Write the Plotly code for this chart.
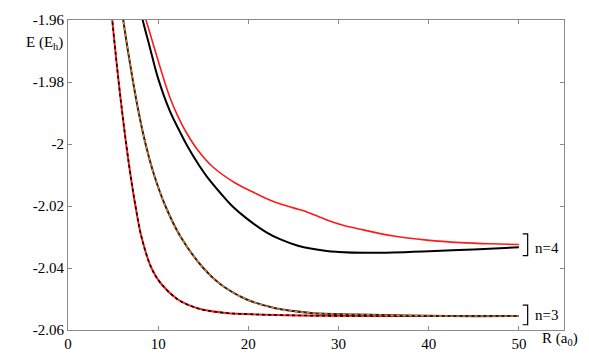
import plotly.graph_objects as go

# Curve data: E (Eh) against R (a0)
R_n3a = [4.6, 4.91, 5.25, 5.62, 6.02, 6.45, 6.93, 7.48, 8.15, 9.25, 10.3, 12.1, 13.4, 15.0, 17.5, 21.0, 28.0, 40.0, 50.0]
E_n3a = [-1.951, -1.96, -1.97, -1.98, -1.99, -2.00, -2.01, -2.02, -2.03, -2.04, -2.045, -2.05, -2.052,
         -2.0535, -2.0545, -2.055, -2.0554, -2.0555, -2.0555]

R_n3b = [5.75, 6.13, 6.65, 7.22, 7.85, 8.6, 9.55, 10.8, 12.5, 15.0, 16.8, 19.7, 23.0, 27.0, 32.0, 42.0, 50.0]
E_n3b = [-1.951, -1.96, -1.97, -1.98, -1.99, -2.00, -2.01, -2.02, -2.03, -2.04, -2.045, -2.05, -2.053,
         -2.0545, -2.055, -2.0555, -2.0555]

R_n4_black = [7.9, 8.28, 9.09, 10.0, 11.3, 12.4, 13.2, 14.6, 15.4, 16.9, 18.2, 19.8, 22.0, 23.5, 25.5,
              28.7, 30.0, 33.0, 36.0, 40.0, 45.0, 50.0]
E_n4_black = [-1.9551, -1.96, -1.969, -1.9789, -1.9894, -1.996, -2.0005, -2.0072, -2.0105, -2.0158,
              -2.02, -2.024, -2.0285, -2.0307, -2.0328, -2.0345, -2.0348, -2.0351, -2.035, -2.0346,
              -2.034, -2.0333]

R_n4_red = [8.25, 8.65, 9.5, 10.6, 11.3, 12.1, 13.2, 14.4, 16.1, 18.5, 20.5, 22.7, 25.0, 26.5, 27.5,
            28.7, 30.5, 32.4, 36.1, 39.8, 43.5, 47.0, 50.0]
E_n4_red = [-1.956, -1.96, -1.9683, -1.9789, -1.985, -1.9905, -1.9967, -2.002, -2.0075, -2.0125, -2.0155,
            -2.0185, -2.0206, -2.0219, -2.0231, -2.0245, -2.0262, -2.0275, -2.0297, -2.031, -2.0318,
            -2.0322, -2.0324]

x_ticks = [0, 10, 20, 30, 40, 50]
y_ticks = [-1.96, -1.98, -2.0, -2.02, -2.04, -2.06]
y_tick_text = ["-1.96", "-1.98", "-2", "-2.02", "-2.04", "-2.06"]

FONT = "Liberation Serif, Times New Roman, DejaVu Serif, serif"
AXC = "#8a8a8a"

fig = go.Figure()
spl = dict(shape="spline", smoothing=1.0)
fig.add_trace(go.Scatter(x=R_n3a, y=E_n3a, mode="lines", line=dict(color="#ff1a1a", width=2, **spl)))
fig.add_trace(go.Scatter(x=R_n3a, y=E_n3a, mode="lines", line=dict(color="black", width=1.6, dash="dot", **spl)))
fig.add_trace(go.Scatter(x=R_n3b, y=E_n3b, mode="lines", line=dict(color="#222222", width=2, **spl)))
fig.add_trace(go.Scatter(x=R_n3b, y=E_n3b, mode="lines", line=dict(color="#ff7f1a", width=1.4, dash="dot", **spl)))
fig.add_trace(go.Scatter(x=R_n4_black, y=E_n4_black, mode="lines", line=dict(color="black", width=2, **spl)))
fig.add_trace(go.Scatter(x=R_n4_red, y=E_n4_red, mode="lines", line=dict(color="#ff1a1a", width=1.6, **spl)))

axis_common = dict(showline=True, linecolor=AXC, linewidth=1, mirror="ticks", ticks="inside",
                   ticklen=4, tickcolor=AXC, showgrid=False, zeroline=False,
                   tickfont=dict(family=FONT, size=15, color="black"))
fig.update_xaxes(range=[0, 55], tickvals=x_ticks, ticktext=[str(v) for v in x_ticks], **axis_common)
fig.update_yaxes(range=[-2.06, -1.96], tickvals=y_ticks, ticktext=y_tick_text, **axis_common)


def bracket(y0, y1):
    return dict(type="path", xref="x", yref="y",
                path=f"M 50.42 {y0} L 50.97 {y0} L 50.97 {y1} L 50.42 {y1}",
                line=dict(color="black", width=1.2))


txt = dict(family=FONT, size=15, color="black")
fig.update_layout(
    width=589, height=364,
    margin=dict(l=68, r=25, t=17, b=30),
    plot_bgcolor="white", paper_bgcolor="white",
    showlegend=False,
    hovermode=False,
    font=dict(family=FONT),
    shapes=[bracket(-2.0290, -2.0360), bracket(-2.0520, -2.0583)],
    annotations=[
        dict(text="E (E<sub>h</sub>)", xref="paper", yref="paper", x=-0.006, y=0.925,
             xanchor="right", yanchor="middle", showarrow=False, font=txt),
        dict(text="R (a<sub>0</sub>)", xref="paper", yref="paper", x=0.951, y=-0.03,
             xanchor="left", yanchor="middle", showarrow=False, font=txt),
        dict(text="n=4", xref="x", yref="y", x=51.55, y=-2.0334, xanchor="left", yanchor="middle",
             showarrow=False, font=txt),
        dict(text="n=3", xref="x", yref="y", x=51.55, y=-2.0553, xanchor="left", yanchor="middle",
             showarrow=False, font=txt),
    ],
)

fig.write_html("out.html", config={"displayModeBar": False},
               post_script="document.body.style.margin='0';document.body.style.overflow='hidden';")
